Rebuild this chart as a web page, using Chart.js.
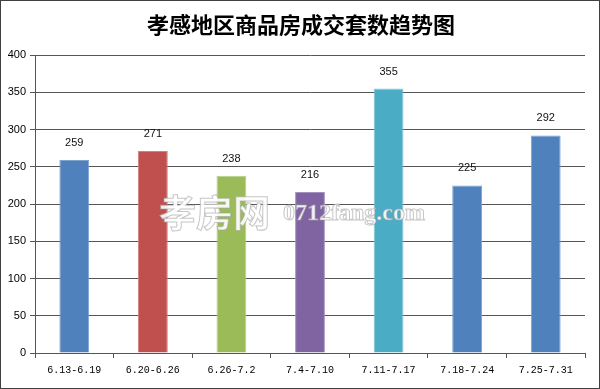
<!DOCTYPE html>
<html>
<head>
<meta charset="utf-8">
<script src="https://cdn.jsdelivr.net/npm/chart.js@4.4.1/dist/chart.umd.min.js"></script>
<style>
	html, body { margin: 0; padding: 0; background: #fff; }
	#wrap { width: 600px; height: 389px; position: relative; }
</style>
</head>
<body>
<div id="wrap"><canvas id="c" width="600" height="389"></canvas></div>
<script>
// chart data
var weeks = ["6.13-6.19", "6.20-6.26", "6.26-7.2", "7.4-7.10", "7.11-7.17", "7.18-7.24", "7.25-7.31"];
var deals = [259, 271, 238, 216, 355, 225, 292];
var barColors = ["#4f81bd", "#c0504d", "#9bbb59", "#8064a2", "#4bacc6", "#4f81bd", "#4f81bd"];
var barEdges = ["#7ea3d1", "#d38180", "#b7d08b", "#a591c0", "#85c9dc", "#7ea3d1", "#7ea3d1"];
var chartTitle = "孝感地区商品房成交套数趋势图";

// title, frame, value labels and watermark
var decor = {
	id: "decor",
	beforeDraw: function (chart) {
		var ctx = chart.ctx;
		ctx.save();
		ctx.fillStyle = "#fff";
		ctx.fillRect(0, 0, chart.width, chart.height);
		ctx.restore();
	},
	afterDatasetsDraw: function (chart) {
		var ctx = chart.ctx;
		var meta = chart.getDatasetMeta(0);
		ctx.save();
		ctx.font = "11px 'Liberation Sans', Arial, sans-serif";
		ctx.fillStyle = "#111";
		ctx.textAlign = "center";
		ctx.textBaseline = "middle";
		meta.data.forEach(function (bar, i) {
			ctx.fillText(String(deals[i]), bar.x, bar.y - 17);
		});

		// watermark
		ctx.textAlign = "left";
		ctx.textBaseline = "middle";
		ctx.lineWidth = 1;
		ctx.strokeStyle = "rgba(160,160,160,0.6)";
		ctx.fillStyle = "rgba(255,255,255,0.9)";
		ctx.font = "bold 37px 'Noto Sans CJK SC', sans-serif";
		ctx.fillText("孝房网", 159, 213);
		ctx.strokeText("孝房网", 159, 213);
		ctx.font = "bold 24px 'Liberation Serif', serif";
		ctx.fillText("0712fang.com", 283, 214);
		ctx.strokeText("0712fang.com", 283, 214);
		ctx.restore();
	},
	afterDraw: function (chart) {
		var ctx = chart.ctx;
		ctx.save();
		ctx.font = "bold 22px 'Noto Sans CJK SC', sans-serif";
		ctx.fillStyle = "#000";
		ctx.textAlign = "center";
		ctx.textBaseline = "middle";
		ctx.fillText(chartTitle, 301, 25);
		ctx.strokeStyle = "#404040";
		ctx.lineWidth = 1;
		ctx.strokeRect(0.5, 0.5, chart.width - 1, chart.height - 1);
		ctx.restore();
	},
};

new Chart(document.getElementById("c"), {
	type: "bar",
	data: {
		labels: weeks,
		datasets: [
			{
				data: deals,
				backgroundColor: barColors,
				borderColor: barEdges,
				borderWidth: 1,
				categoryPercentage: 1,
				barPercentage: 0.38,
			},
		],
	},
	options: {
		responsive: false,
		animation: false,
		devicePixelRatio: 1,
		layout: { padding: { left: 0, right: 15, top: 55, bottom: 0 } },
		plugins: {
			legend: { display: false },
			title: { display: false },
			tooltip: { enabled: false },
		},
		scales: {
			x: {
				grid: {
					drawOnChartArea: false,
					drawTicks: true,
					tickLength: 5,
					color: "#555",
				},
				border: { color: "#555", width: 1 },
				ticks: {
					color: "#000",
					padding: 6,
					font: { family: "'Liberation Mono', monospace", size: 10 },
					maxRotation: 0,
					autoSkip: false,
				},
				afterFit: function (s) { s.height = 36; },
			},
			y: {
				min: 0,
				max: 400,
				ticks: {
					stepSize: 50,
					color: "#000",
					padding: 4,
					font: { family: "'Liberation Sans', Arial, sans-serif", size: 11 },
				},
				grid: { color: "#555", tickLength: 5 },
				border: { color: "#555", width: 1 },
				afterFit: function (s) { s.width = 35; },
			},
		},
	},
	plugins: [decor],
});
</script>
</body>
</html>
